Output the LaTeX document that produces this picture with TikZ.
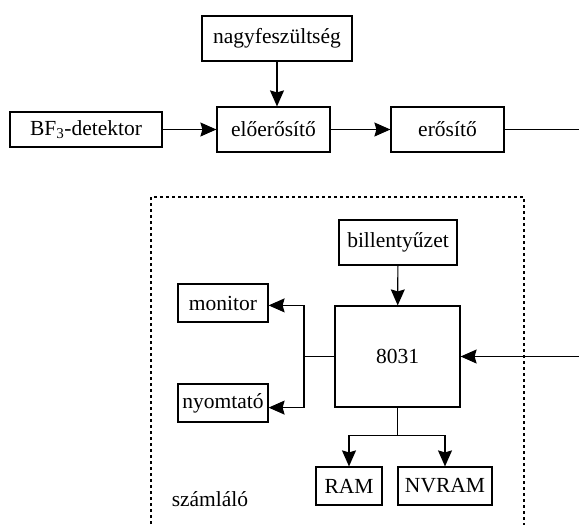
\documentclass[tikz,border=0pt]{standalone}
\usepackage{fontspec}
\setmainfont{Liberation Serif}
\usetikzlibrary{arrows.meta}
\usetikzlibrary{positioning}

\begin{document}
\begin{tikzpicture}[x=1pt,y=-1pt,line width=1.2pt,>={Stealth[length=16pt,width=14pt,inset=2pt]},
    font=\fontsize{21.5}{26}\selectfont,
    blokk/.style={draw,inner sep=0pt,minimum height=45pt}]
    \useasboundingbox (0,0) rectangle (579,525);

    \node[blokk,minimum width=150pt] (nagy) at (277,38.5) {nagyfeszültség};
    \node[blokk,minimum width=152pt,minimum height=35pt] (bf) at (86,129.5) {BF\textsubscript{3}-detektor};
    \node[blokk,minimum width=113pt] (eloerosito) at (273.5,129.5) {előerősítő};
    \node[blokk,minimum width=113pt] (erosito) at (447.5,129.5) {erősítő};
    \coordinate (kimenet) at (579,130);

    \node[blokk,minimum width=118pt] (billentyu) at (398,242.5) {billentyűzet};
    \node[blokk,minimum width=125pt,minimum height=101pt] (cpu) at (397.5,356.5) {8031};
    \node[blokk,minimum width=90pt,minimum height=38pt] (monitor) at (223,303) {monitor};
    \node[blokk,minimum width=90pt,minimum height=38pt] (nyomtato) at (223,403) {nyomtató};
    \node[blokk,minimum width=66pt,minimum height=38pt] (ram) at (349,486) {RAM};
    \node[blokk,minimum width=94pt,minimum height=38pt] (nvram) at (445,486) {NVRAM};
    \node[] (szamlalo) at (210,499) {számláló};
    \coordinate (bemenet) at (579,357);
    \coordinate (bus) at (304,356.5);

    \draw[->] (nagy.south) -- (nagy.south |- eloerosito.north);
    \draw[->] (bf) -- (eloerosito);
    \draw[->] (eloerosito) -- (erosito);
    \draw (erosito.east) -- (erosito.east -| kimenet);

    \draw[->] (billentyu) -- (cpu);
    \draw[->] (bemenet |- cpu.east) -- (cpu.east);
    \draw (cpu.west) -- (bus);
    \draw[->] (bus) -- (bus |- cpu.north) -- (monitor.east |- cpu.north);
    \draw[->] (bus) -- (bus |- cpu.south) -- (nyomtato.east |- cpu.south);
    \draw (cpu.south) -- ++(0,27.5) coordinate (eloszto);
    \draw[->] (eloszto) -| (ram);
    \draw[->] (eloszto) -| (nvram);

    \draw[dash pattern=on 3pt off 3pt] (151,530) -- (151,197) -- (524,197) -- (524,530);
  \end{tikzpicture}
\end{document}
